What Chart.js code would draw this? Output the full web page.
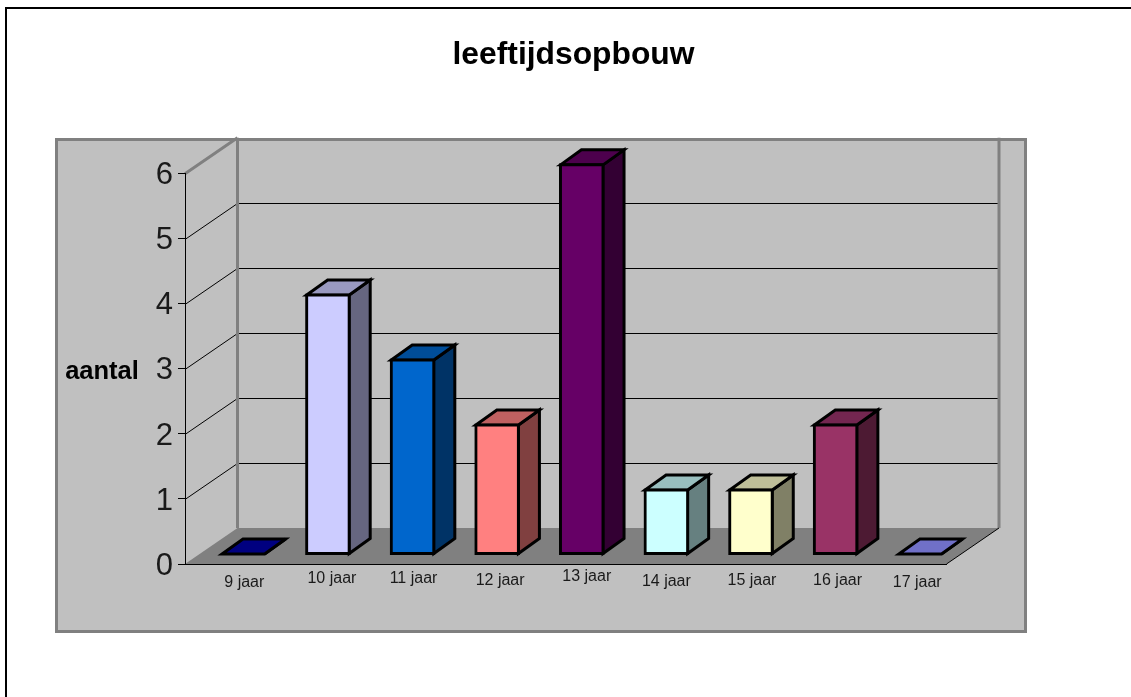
<!DOCTYPE html>
<html>
<head>
<meta charset="utf-8">
<style>html,body{margin:0;padding:0;background:#fff}canvas{display:block}</style>
<script src="https://cdn.jsdelivr.net/npm/chart.js@4"></script>
</head>
<body>
<canvas id="c" width="1131" height="697"></canvas>
<script>
const categories = ['9 jaar','10 jaar','11 jaar','12 jaar','13 jaar','14 jaar','15 jaar','16 jaar','17 jaar'];
const values = [0,4,3,2,6,1,1,2,0];
const frontColors = ['#0000AA','#CCCCFF','#0066CC','#FF8080','#660066','#CCFFFF','#FFFFCC','#993366','#9595FF'];
const topColors   = ['#000080','#9999C0','#004D99','#BF6060','#4D004D','#99BFBF','#BFBF99','#732650','#7070C8'];
const sideColors  = ['#000055','#666680','#003366','#804040','#330033','#668080','#808066','#4D1A33','#4B4B80'];
const titleText = 'leeftijdsopbouw';
const yTitleText = 'aantal';
const labelNudgeX = [17,20,17,19,21,16,17,18,13];
const labelNudgeY = [3,-1,-1,1,-3,2,1,1,3];

const WALL = {dx:52.5, dy:36};
const BAR_SHIFT = {dx:16, dy:9.5};
const BAR_DEPTH = {dx:21, dy:15};
const GREY = '#808080', PANEL = '#C0C0C0';

const scene = {
  id:'scene',
  afterLayout(chart){
    const t = chart.titleBlock;
    t.left = 0; t.right = 1147;
    const items = chart.scales.x.getLabelItems();
    items.forEach((it,i)=>{
      it.options.translation[0] += labelNudgeX[i];
      it.options.translation[1] += labelNudgeY[i];
    });
    chart.scales.y.getLabelItems().forEach(it=>{ it.options.translation[1] += 2; });
  },
  beforeDraw(chart){
    const c = chart.ctx, x = chart.scales.x, y = chart.scales.y;
    c.save();
    c.fillStyle='#fff'; c.fillRect(0,0,chart.width,chart.height);
    c.fillStyle='#000';
    c.fillRect(5,7,2,chart.height-7);
    c.fillRect(5,7,chart.width-5,2);
    // panel
    c.fillStyle=PANEL; c.fillRect(56,139,970,492);
    c.strokeStyle=GREY; c.lineWidth=3; c.strokeRect(56.5,139.5,969,492);
    const L=x.left,R=x.right,T=y.top,B=y.bottom;
    // floor
    c.fillStyle=GREY; c.beginPath();
    c.moveTo(L,B); c.lineTo(R,B); c.lineTo(R+WALL.dx,B-WALL.dy); c.lineTo(L+WALL.dx,B-WALL.dy); c.closePath(); c.fill();
    // grid lines on the walls
    y.ticks.forEach(tk=>{
      const py=y.getPixelForValue(tk.value);
      if(tk.value===0||tk.value===6) return;
      c.strokeStyle='#000'; c.lineWidth=1;
      c.beginPath(); c.moveTo(L,Math.round(py)+.5); c.lineTo(L+WALL.dx,Math.round(py-WALL.dy)+.5); c.lineTo(R+WALL.dx,Math.round(py-WALL.dy)+.5); c.stroke();
    });
    // back wall frame
    c.strokeStyle=GREY; c.lineWidth=3;
    c.beginPath();
    c.moveTo(L,T); c.lineTo(L+WALL.dx,T-WALL.dy);
    c.moveTo(L+WALL.dx,T-WALL.dy); c.lineTo(L+WALL.dx,B-WALL.dy);
    c.moveTo(R+WALL.dx,T-WALL.dy); c.lineTo(R+WALL.dx,B-WALL.dy);
    c.stroke();
    c.strokeStyle='#000'; c.lineWidth=1;
    c.beginPath(); c.moveTo(R,B); c.lineTo(R+WALL.dx,B-WALL.dy); c.stroke();
    // axis title
    c.fillStyle='#000'; c.font='bold 25.5px "Liberation Sans"'; c.textAlign='center'; c.textBaseline='middle';
    c.fillText(yTitleText,102,371.5);
    c.restore();
  },
  beforeDatasetsDraw(chart){
    const c = chart.ctx, meta = chart.getDatasetMeta(0);
    c.save();
    c.translate(BAR_SHIFT.dx,-BAR_SHIFT.dy);
    c.lineWidth=3; c.strokeStyle='#000'; c.lineJoin='miter';
    meta.data.forEach((b,i)=>{
      const l=b.x-b.width/2+.5, r=b.x+b.width/2-.5, t=b.y+.5, bt=b.base-.5;
      const top = values[i]===0 ? bt : t;
      c.fillStyle=sideColors[i];
      c.beginPath(); c.moveTo(r,top); c.lineTo(r+BAR_DEPTH.dx,top-BAR_DEPTH.dy); c.lineTo(r+BAR_DEPTH.dx,bt-BAR_DEPTH.dy); c.lineTo(r,bt); c.closePath(); c.fill(); c.stroke();
      c.fillStyle=topColors[i];
      c.beginPath(); c.moveTo(l,top); c.lineTo(l+BAR_DEPTH.dx,top-BAR_DEPTH.dy); c.lineTo(r+BAR_DEPTH.dx,top-BAR_DEPTH.dy); c.lineTo(r,top); c.closePath(); c.fill(); c.stroke();
    });
  },
  afterDatasetsDraw(chart){ chart.ctx.restore(); }
};

new Chart(document.getElementById('c'),{
  type:'bar',
  data:{labels:categories,datasets:[{data:values,backgroundColor:frontColors,borderColor:'#000',borderWidth:3,borderSkipped:false,inflateAmount:1,barPercentage:0.515,categoryPercentage:1,clip:false}]},
  plugins:[scene],
  options:{
    responsive:false,animation:false,devicePixelRatio:1,
    layout:{padding:{left:0,right:184.5,top:0,bottom:93}},
    plugins:{
      legend:{display:false},tooltip:{enabled:false},
      title:{display:true,text:titleText,color:'#000',font:{family:'"Liberation Sans"',size:31.8,weight:'bold'},padding:{top:35.8,bottom:99.9}}
    },
    scales:{
      x:{
        afterFit(s){s.height=40;},
        grid:{display:true,drawOnChartArea:false,drawTicks:false},
        border:{display:true,color:'#000',width:1},
        ticks:{color:'#1a1a1a',font:{family:'"Liberation Sans"',size:16},autoSkip:false,maxRotation:0,minRotation:0,padding:6}
      },
      y:{
        min:0,max:6,
        afterFit(s){s.width=185;},
        grid:{drawOnChartArea:false,drawTicks:true,tickLength:7,color:'#000'},
        border:{display:true,color:'#000',width:1},
        ticks:{stepSize:1,color:'#1a1a1a',font:{family:'"Liberation Sans"',size:31},padding:5}
      }
    }
  }
});
</script>
</body>
</html>
